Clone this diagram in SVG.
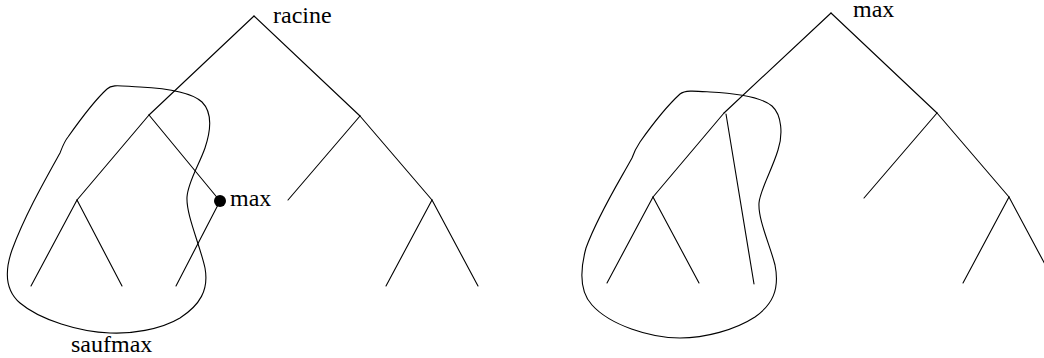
<svg xmlns="http://www.w3.org/2000/svg" width="1044" height="358" viewBox="0 0 1044 358">
<style>
.e{stroke:#000;stroke-width:1.1;fill:none;stroke-linecap:round}
.c{stroke:#000;stroke-width:1.1;fill:none}
.t{font-family:"Liberation Serif","Times New Roman",serif;font-size:24px;fill:#000}
</style>
<rect width="1044" height="358" fill="#fff"/>
<g id="connectors">
<g id="tree1">
<line class="e" x1="254" y1="16" x2="149" y2="115"/>
<line class="e" x1="254" y1="16" x2="360" y2="116"/>
<line class="e" x1="149" y1="115" x2="77" y2="200"/>
<line class="e" x1="149" y1="115" x2="220" y2="201"/>
<line class="e" x1="77" y1="200" x2="31" y2="286"/>
<line class="e" x1="77" y1="200" x2="122" y2="286"/>
<line class="e" x1="220" y1="201" x2="176" y2="286"/>
<line class="e" x1="360" y1="116" x2="288" y2="200"/>
<line class="e" x1="360" y1="116" x2="432" y2="200"/>
<line class="e" x1="432" y1="200" x2="386" y2="286"/>
<line class="e" x1="432" y1="200" x2="478" y2="286"/>
</g>
<g id="tree2">
<line class="e" x1="831" y1="13" x2="724" y2="113"/>
<line class="e" x1="831" y1="13" x2="937" y2="113"/>
<line class="e" x1="724" y1="113" x2="653" y2="197"/>
<line class="e" x1="726" y1="114" x2="754" y2="284"/>
<line class="e" x1="653" y1="197" x2="607" y2="283"/>
<line class="e" x1="653" y1="197" x2="699" y2="283"/>
<line class="e" x1="937" y1="113" x2="864" y2="198"/>
<line class="e" x1="937" y1="113" x2="1009" y2="197"/>
<line class="e" x1="1009" y1="197" x2="963" y2="283"/>
<line class="e" x1="1009" y1="197" x2="1055" y2="283"/>
</g>
</g>
<g id="saufmax-region">
<path class="c" d="M 107,89 C 112,84 120,86 140,87 C 160,88 190,91 202,102 C 212,112 211,130 205,148 C 199,165 188,182 187,197 C 186,215 200,245 205,268 C 209,290 200,305 180,318 C 160,330 130,334 110,333 C 80,332 40,320 20,303 C 5,290 5,270 12,250 C 25,215 45,180 60,153 C 62,148 64,142 68,137 C 80,120 95,100 107,89 Z"/>
<text class="t" x="71" y="352">saufmax</text>
</g>
<g id="region2">
<path class="c" d="M 680,94 C 685,90 695,91 710,92 C 730,93 760,96 772,106 C 782,115 783,135 778,150 C 772,170 760,190 759,203 C 758,220 770,245 775,265 C 780,290 772,305 755,317 C 735,330 705,338 680,338 C 650,338 610,325 592,305 C 580,292 580,270 586,248 C 598,215 620,180 632,158 C 634,152 636,148 640,142 C 652,125 668,105 680,94 Z"/>
</g>
<g id="racine">
<text class="t" x="273" y="23">racine</text>
</g>
<g id="max-node">
<circle cx="220" cy="201" r="6" fill="#000"/>
<text class="t" x="230" y="206">max</text>
</g>
<g id="max-root">
<text class="t" x="853" y="17">max</text>
</g>
</svg>
